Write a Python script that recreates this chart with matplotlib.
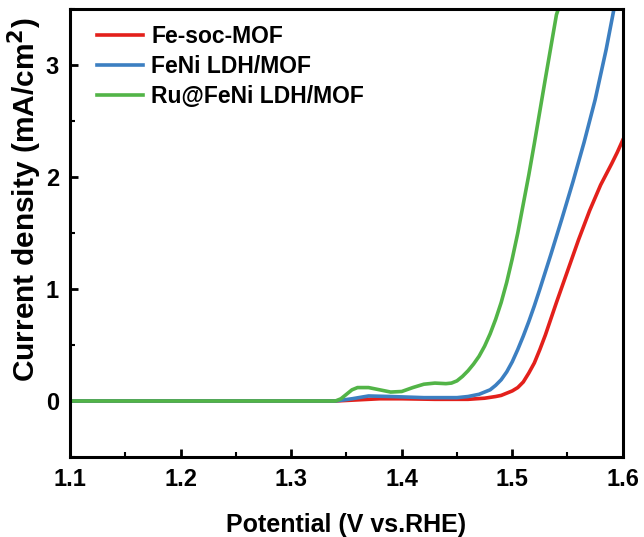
import matplotlib.pyplot as plt
from matplotlib.ticker import MultipleLocator

plt.rcParams['font.family'] = ['Liberation Sans', 'DejaVu Sans']
plt.rcParams['font.weight'] = 'bold'

# LSV curves
fe_x = [1.10, 1.30, 1.34, 1.36, 1.38, 1.40, 1.43, 1.46, 1.475, 1.485, 1.49, 1.495, 1.50,
        1.505, 1.51, 1.515, 1.52, 1.525, 1.53, 1.54, 1.55, 1.56, 1.57, 1.58, 1.59,
        1.595, 1.60]
fe_y = [0.0, 0.0, 0.0, 0.01, 0.02, 0.02, 0.015, 0.015, 0.025, 0.04, 0.05, 0.07, 0.09,
        0.12, 0.17, 0.25, 0.34, 0.46, 0.59, 0.88, 1.16, 1.44, 1.70, 1.93, 2.12,
        2.22, 2.33]

ldh_x = [1.10, 1.34, 1.355, 1.37, 1.39, 1.42, 1.45, 1.46, 1.47, 1.48, 1.485, 1.49,
         1.495, 1.50, 1.505, 1.51, 1.515, 1.52, 1.525, 1.535, 1.545, 1.555, 1.565,
         1.575, 1.585, 1.593]
ldh_y = [0.0, 0.0, 0.02, 0.045, 0.04, 0.03, 0.03, 0.04, 0.06, 0.10, 0.14, 0.19,
         0.26, 0.35, 0.46, 0.58, 0.71, 0.85, 1.00, 1.31, 1.63, 1.96, 2.31,
         2.69, 3.14, 3.55]

ru_x = [1.10, 1.34, 1.345, 1.35, 1.355, 1.36, 1.37, 1.38, 1.39, 1.40, 1.41, 1.42,
        1.43, 1.44, 1.445, 1.45, 1.455, 1.46, 1.465, 1.47, 1.475, 1.48, 1.485, 1.49,
        1.495, 1.50, 1.505, 1.51, 1.515, 1.52, 1.53, 1.54, 1.545]
ru_y = [0.0, 0.0, 0.02, 0.06, 0.10, 0.12, 0.12, 0.10, 0.08, 0.085, 0.12, 0.15,
        0.16, 0.155, 0.16, 0.18, 0.22, 0.27, 0.33, 0.40, 0.49, 0.60, 0.73, 0.88,
        1.06, 1.27, 1.50, 1.76, 2.02, 2.30, 2.88, 3.45, 3.6]

labels = ['Fe-soc-MOF', 'FeNi LDH/MOF', 'Ru@FeNi LDH/MOF']
colors = ['#E3201B', '#3C7FC1', '#52B447']

fig = plt.figure(figsize=(6.44, 5.37), dpi=100)
ax = fig.add_axes([0.109, 0.149, 0.858, 0.834])

ax.plot(fe_x, fe_y, color=colors[0], lw=2.6, label=labels[0])
ax.plot(ldh_x, ldh_y, color=colors[1], lw=2.6, label=labels[1])
ax.plot(ru_x, ru_y, color=colors[2], lw=2.6, label=labels[2])

ax.set_xlim(1.1, 1.6)
ax.set_ylim(-0.5, 3.5)
ax.xaxis.set_major_locator(MultipleLocator(0.1))
ax.xaxis.set_minor_locator(MultipleLocator(0.05))
ax.yaxis.set_major_locator(MultipleLocator(1))
ax.yaxis.set_minor_locator(MultipleLocator(0.5))
ax.tick_params(which='major', direction='in', length=6, width=2, labelsize=17, pad=8)
ax.tick_params(which='minor', direction='in', length=3.5, width=1.5)
for sp in ax.spines.values():
    sp.set_linewidth(2.2)

ax.set_xlabel('Potential (V vs.RHE)', fontsize=18, fontweight='bold', labelpad=16)
ax.set_ylabel('Current density (mA/cm$^\\mathbf{2}$)', fontsize=21.5, fontweight='bold')
ax.yaxis.set_label_coords(-0.047, 0.575)

ax.legend(loc='upper left', frameon=False, fontsize=16.5, handlelength=2.0,
          handletextpad=0.35, labelspacing=0.3, borderaxespad=0.3,
          bbox_to_anchor=(0.02, 1.0))

fig.savefig('out.png', dpi=100, facecolor='white')
